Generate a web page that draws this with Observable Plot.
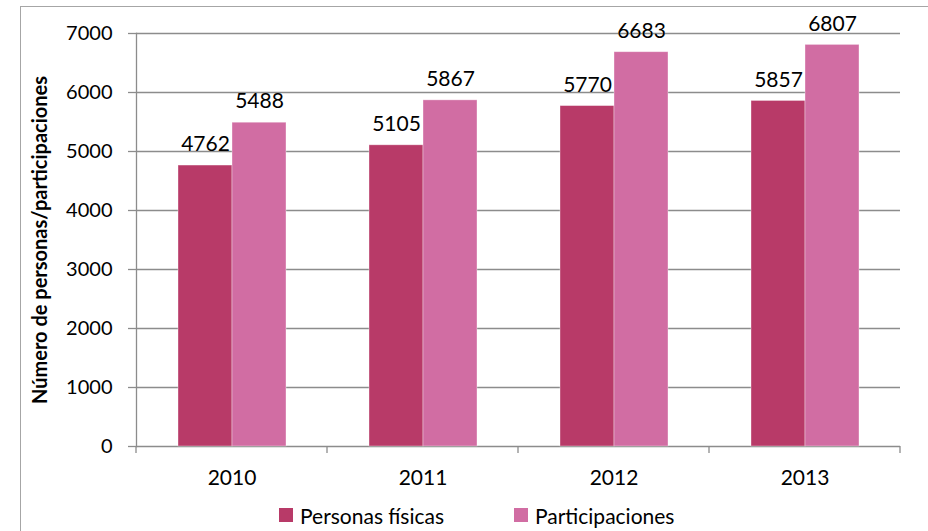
<!DOCTYPE html>
<html>
<head>
<meta charset="utf-8">
<script src="https://cdn.jsdelivr.net/npm/d3@7"></script>
<script src="https://cdn.jsdelivr.net/npm/@observablehq/plot@0.6"></script>
<style>
html, body { margin: 0; padding: 0; background: #fff; overflow: hidden; width: 928px; height: 531px; }
#wrap { position: relative; width: 928px; height: 531px; font-family: Lato, "Open Sans", sans-serif; }
#frame { position: absolute; left: 20px; top: 6px; width: 1000px; height: 700px; border: 1.5px solid #a6a6a6; box-sizing: border-box; }
#chart { position: absolute; left: 0; top: 0; }
#chart svg [aria-label="y-axis label"] text { font-weight: bold; }
#legend { position: absolute; left: 279px; top: 500px; height: 30px; display: flex; align-items: center; font-size: 21px; color: #000; }
.item { display: flex; align-items: center; }
.item:first-child { width: 235px; }
.sw { width: 14px; height: 14px; margin-right: 7px; }
</style>
</head>
<body>
<div id="wrap">
  <div id="frame"></div>
  <div id="chart"></div>
  <div id="legend"></div>
</div>
<script>
const years = ["2010", "2011", "2012", "2013"];
const seriesNames = ["Personas físicas", "Participaciones"];
const personas = [4762, 5105, 5770, 5857];
const participaciones = [5488, 5867, 6683, 6807];
const yTicks = [0, 1000, 2000, 3000, 4000, 5000, 6000, 7000];
const colors = ["#B83A68", "#D16DA3"];
const yLabel = "Número de personas/participaciones";

const data = years.flatMap((y, i) => [
  {year: y, series: seriesNames[0], value: personas[i]},
  {year: y, series: seriesNames[1], value: participaciones[i]}
]);

const gray = "#8c8c8c";
const labelOpts = {fx: "year", x: "series", y: "value", text: d => String(d.value), dy: -21, fontSize: 21};

const chart = Plot.plot({
  width: 928,
  height: 495,
  marginLeft: 135,
  marginRight: 27,
  marginTop: 33,
  marginBottom: 49,
  style: {fontFamily: "Lato, 'Open Sans', sans-serif", fontSize: "20px", color: "#000", background: "transparent", overflow: "visible"},
  fx: {domain: years, padding: 0, label: null},
  x: {domain: seriesNames, paddingInner: 0, paddingOuter: 0.757, axis: null},
  y: {domain: [0, 7000], ticks: yTicks, tickFormat: d => String(d)},
  color: {domain: seriesNames, range: colors},
  marks: [
    Plot.gridY(yTicks, {stroke: gray, strokeOpacity: 1, strokeWidth: 1.3}),
    // white boxes behind the value labels (they break the gridlines)
    Plot.text(data, {...labelOpts, fill: "#fff", ariaLabel: "label-box"}),
    Plot.barY(data, {fx: "year", x: "series", y: "value", fill: "series", stroke: "#fff", strokeOpacity: 0.45, strokeWidth: 0.8}),
    Plot.text(data, {...labelOpts, fill: "#000"}),
    Plot.frame({anchor: "left", facetAnchor: "left", stroke: gray, strokeWidth: 1.3}),
    Plot.axisY(yTicks, {tickSize: 8, tickPadding: 16, stroke: gray, strokeWidth: 1.3, strokeOpacity: 1, fontSize: 20, tickFormat: d => String(d), label: yLabel, labelAnchor: "center", labelArrow: false, labelOffset: 104}),
    Plot.axisFx({anchor: "bottom", tickSize: 0, tickPadding: 24, fontSize: 21, label: null})
  ]
});

// boundary ticks along the category axis, from Plot's own scales
const fxs = chart.scale("fx");
const ys = chart.scale("y");
const y0 = ys.apply(0);
const edges = years.map(y => fxs.apply(y)).concat([fxs.apply(years[years.length - 1]) + fxs.bandwidth]);
d3.select(chart).append("g")
  .selectAll("line").data(edges).join("line")
  .attr("x1", d => d).attr("x2", d => d)
  .attr("y1", y0).attr("y2", y0 + 7)
  .attr("stroke", gray).attr("stroke-width", 1.3);

document.getElementById("chart").appendChild(chart);

// turn each label-box text into a white rectangle sized from the text itself
d3.select(chart).selectAll('g[aria-label="label-box"] text').each(function () {
  const b = this.getBBox();
  const padX = 9, padTop = 2, padBottom = 7;
  const r = document.createElementNS("http://www.w3.org/2000/svg", "rect");
  r.setAttribute("x", b.x - padX);
  r.setAttribute("y", b.y - padTop);
  r.setAttribute("width", b.width + 2 * padX);
  r.setAttribute("height", b.height + padTop + padBottom);
  r.setAttribute("fill", "#fff");
  const t = this.getAttribute("transform");
  if (t) r.setAttribute("transform", t);
  this.parentNode.insertBefore(r, this);
});

const legend = d3.select("#legend");
seriesNames.forEach((s, i) => {
  const it = legend.append("div").attr("class", "item");
  it.append("div").attr("class", "sw").style("background", colors[i]);
  it.append("span").text(s);
});
</script>
</body>
</html>
